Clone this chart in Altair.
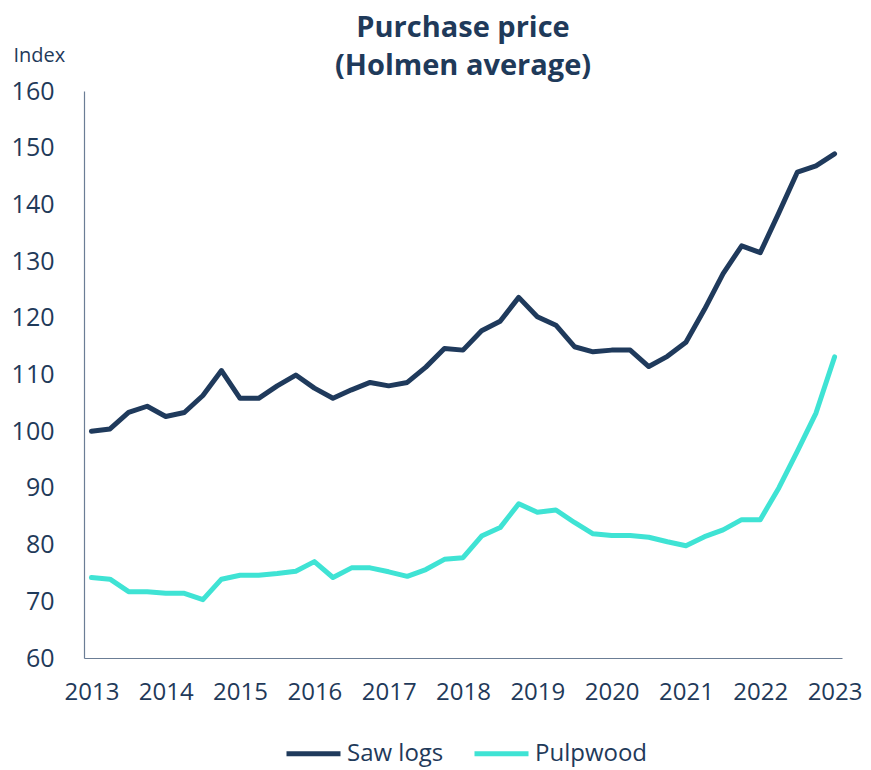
import altair as alt
import pandas as pd

FONT = "Open Sans"
TEXT = "#1f3a5a"

series_names = ["Saw logs", "Pulpwood"]
series_colors = ["#1f3a5c", "#3fe3d4"]
year_ticks = [2013, 2014, 2015, 2016, 2017, 2018, 2019, 2020, 2021, 2022, 2023]
y_ticks = [60, 70, 80, 90, 100, 110, 120, 130, 140, 150, 160]

saw_logs = [100.0, 100.4, 103.3, 104.4, 102.6, 103.3, 106.3, 110.7, 105.8, 105.8,
            108.0, 109.9, 107.6, 105.8, 107.3, 108.6, 108.0, 108.6, 111.3, 114.6,
            114.3, 117.7, 119.4, 123.6, 120.2, 118.7, 114.9, 114.0, 114.3, 114.3,
            111.4, 113.2, 115.7, 121.5, 127.8, 132.7, 131.5, 138.5, 145.7, 146.8,
            148.9]
pulpwood = [74.2, 73.9, 71.7, 71.7, 71.4, 71.4, 70.3, 73.9, 74.6, 74.6,
            74.9, 75.3, 77.0, 74.2, 75.9, 75.9, 75.2, 74.4, 75.6, 77.4,
            77.7, 81.5, 83.0, 87.2, 85.7, 86.1, 83.9, 81.9, 81.6, 81.6,
            81.3, 80.5, 79.8, 81.4, 82.6, 84.4, 84.4, 90.0, 96.5, 103.2,
            113.1]

quarters = [2013 + i / 4 for i in range(len(saw_logs))]

rows = []
for name, vals in zip(series_names, [saw_logs, pulpwood]):
    for t, v in zip(quarters, vals):
        rows.append({"t": t, "value": v, "series": name, "order": series_names.index(name)})
df = pd.DataFrame(rows)

chart = alt.Chart(df).mark_line(strokeWidth=5, strokeCap="round", strokeJoin="round").encode(
    x=alt.X("t:Q",
            scale=alt.Scale(domain=[2012.9, 2023.1], nice=False, zero=False),
            axis=alt.Axis(values=year_ticks, format="d", title=None, grid=False,
                          ticks=False, labelPadding=22, labelFontSize=24,
                          labelColor=TEXT, labelFont=FONT, domainColor="#6b7d95",
                          domainWidth=1.2, labelFlush=False)),
    y=alt.Y("value:Q",
            scale=alt.Scale(domain=[60, 160], nice=False, zero=False),
            axis=alt.Axis(values=y_ticks, title="Index", grid=False, ticks=False,
                          labelPadding=30, labelFontSize=25, labelColor=TEXT,
                          labelFont=FONT, domainColor="#6b7d95", domainWidth=1.2,
                          titleAngle=0, titleX=-71, titleY=-36, titleAlign="left",
                          titleBaseline="middle", titleFontSize=20,
                          titleFontWeight="normal", titleColor=TEXT, titleFont=FONT)),
    color=alt.Color("series:N",
                    scale=alt.Scale(domain=series_names, range=series_colors),
                    legend=alt.Legend(title=None, orient="none", direction="horizontal",
                                      legendX=200, legendY=633, padding=0,
                                      symbolType="stroke", symbolSize=2916,
                                      symbolStrokeWidth=5, labelFontSize=24,
                                      labelFont=FONT, labelColor=TEXT, labelOffset=4,
                                      columnPadding=20)),
    order="order:Q",
    detail="series:N",
).properties(
    width=758,
    height=567,
    title=alt.TitleParams(text=["Purchase price", "(Holmen average)"], fontSize=29,
                          font=FONT, fontWeight="bold", color=TEXT, anchor="middle",
                          lineHeight=38, offset=-36),
    autosize=alt.AutoSizeParams(type="none"),
    padding={"left": 76, "top": 83, "right": 21, "bottom": 110},
).configure_view(stroke=None)

chart.save("out.html", embed_options={"renderer": "svg", "actions": False})
